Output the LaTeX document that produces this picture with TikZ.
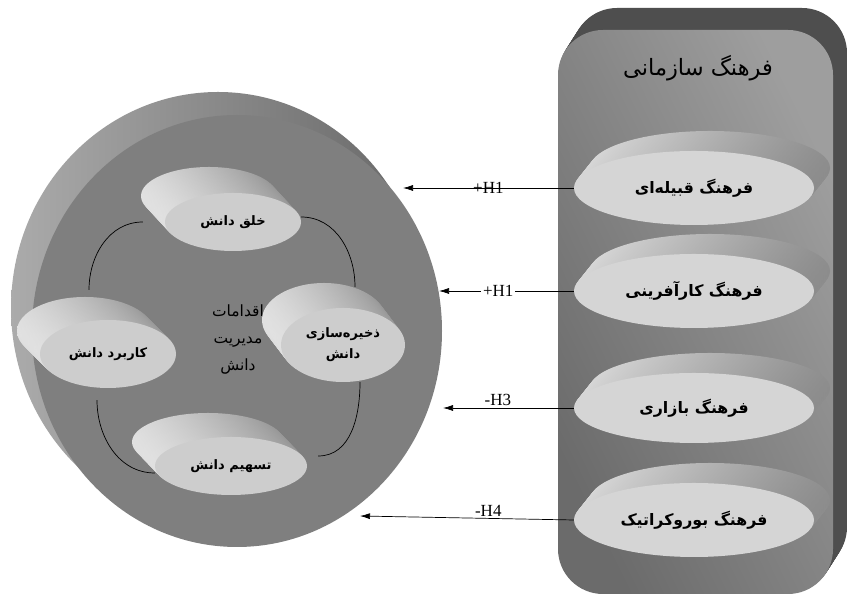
\documentclass[tikz,border=0pt]{standalone}
\usepackage{fontspec}
\newfontfamily\fafont[Script=Arabic]{DejaVu Sans}
\newfontfamily\hfont{Liberation Serif}
\TeXXeTstate=1
\usetikzlibrary{shapes.geometric,arrows.meta}
\definecolor{diskface}{HTML}{7F7F7F}
\definecolor{diskside}{HTML}{676767}
\definecolor{pillface}{HTML}{CDCDCD}
\definecolor{ocface}{HTML}{D5D5D5}
\definecolor{panelside}{HTML}{4E4E4E}

\newcommand{\fatext}[1]{\beginR#1\endR}
\newcommand{\hyptext}[2]{$\hbox{#1}\hbox{#2}$}
% side of a tilted disc: ellipses swept from the back to the front
\newcommand{\pillside}[7]{%
  \foreach \k in {20,...,1}
    \shade[#7] ({#1+#5*\k/20},{#2+#6*\k/20}) ellipse [x radius=#3, y radius=#4];
}

\begin{document}
\begin{tikzpicture}[x=1pt,y=1pt,
    kmpill/.style={ellipse, fill=pillface, inner sep=0pt, align=center,
      font=\fafont\bfseries\fontsize{13}{21}\selectfont},
    ocpill/.style={ellipse, fill=ocface, inner sep=0pt, minimum width=240pt,
      minimum height=74pt, font=\fafont\bfseries\fontsize{15.8}{17}\selectfont},
    kmside/.style={left color=white!88!black, right color=black!42},
    ocside/.style={left color=black!15, right color=black!45},
    hyp/.style={-{Latex[length=10pt,width=6pt]}, line width=0.7pt},
    hlabel/.style={font=\hfont\fontsize{17}{17}\selectfont, inner sep=2pt},
    kmarc/.style={line width=0.7pt}]
    \fill[white] (0,0) rectangle (847,596);

    % knowledge management disc
    \shade[left color=black!33, right color=diskside] (218,288) ellipse [x radius=207, y radius=216];
    \fill[diskface] (237,265) ellipse [x radius=205, y radius=216];
    \node[font=\fafont\fontsize{15.5}{27}\selectfont, align=center] (kmtitle) at (238,256)
      {\fatext{اقدامات}\\\fatext{مدیریت}\\\fatext{دانش}};

    \pillside{233}{374}{68}{29}{-24}{26}{kmside}
    \node[kmpill, minimum width=136pt, minimum height=58pt] (create) at (233,374) {\fatext{خلق دانش}};
    \pillside{108}{242}{68}{34}{-23}{23}{kmside}
    \node[kmpill, minimum width=136pt, minimum height=68pt] (apply) at (108,242) {\fatext{کاربرد دانش}};
    \pillside{343}{251}{62}{37}{-19}{25}{kmside}
    \node[kmpill, minimum width=124pt, minimum height=74pt] (store) at (343,251)
      {\fatext{ذخیره‌سازی}\\\fatext{دانش}};
    \pillside{231}{130}{76}{29}{-23}{24}{kmside}
    \node[kmpill, minimum width=152pt, minimum height=58pt] (share) at (231,130) {\fatext{تسهیم دانش}};

    \draw[kmarc] ([xshift=-22pt]create.west) to[out=180,in=90] ([xshift=-19pt,yshift=30pt]apply.north);
    \draw[kmarc] ([yshift=5pt]create.east) to[out=0,in=90] ([xshift=12pt,yshift=21pt]store.north);
    \draw[kmarc] ([xshift=-11pt,yshift=-12pt]apply.south) to[out=-90,in=180] ([yshift=-7pt]share.west);
    \draw[kmarc] ([xshift=17pt]store.south) to[out=-90,in=0] ([xshift=11pt,yshift=10pt]share.east);

    % organisational culture panel
    \foreach \k in {14,...,1}
      \fill[panelside, rounded corners=45pt] ({558+\k},{2+1.571*\k}) rectangle ++(275,564);
    \shade[rounded corners=45pt, top color=black!38, middle color=black!10, bottom color=black!58,
      shading angle=-64] (558,2) rectangle (833,566);
    \node[font=\fafont\fontsize{22.5}{23}\selectfont] (octitle) at (698,528) {\fatext{فرهنگ سازمانی}};

    \pillside{694}{408}{120}{37}{16}{20}{ocside}
    \node[ocpill] (tribal) at (694,408) {\fatext{فرهنگ قبیله‌ای}};
    \pillside{694}{305}{120}{37}{16}{20}{ocside}
    \node[ocpill] (entre) at (694,305) {\fatext{فرهنگ کارآفرینی}};
    \pillside{694}{188}{120}{35}{16}{20}{ocside}
    \node[ocpill, minimum height=70pt] (market) at (694,188) {\fatext{فرهنگ بازاری}};
    \pillside{694}{76}{120}{37}{16}{20}{ocside}
    \node[ocpill] (bureau) at (694,76) {\fatext{فرهنگ بوروکراتیک}};

%arrows
    \coordinate (h1a) at (403,408);
    \coordinate (h1b) at (439,305);
    \coordinate (h3) at (443,188);
    \coordinate (h4) at (360,80);
    \draw[hyp] (tribal.west) -- node[hlabel, pos=0.5] {\hyptext{+}{H1}} (h1a);
    \draw[hyp] (entre.west) -- node[hlabel, fill=white, pos=0.56] {\hyptext{+}{H1}} (h1b);
    \draw[hyp] (market.west) -- node[hlabel, above, pos=0.58] {\hyptext{-}{H3}} (h3);
    \draw[hyp] (bureau.west) -- node[hlabel, above, pos=0.4] {\hyptext{-}{H4}} (h4);
\end{tikzpicture}
\end{document}
